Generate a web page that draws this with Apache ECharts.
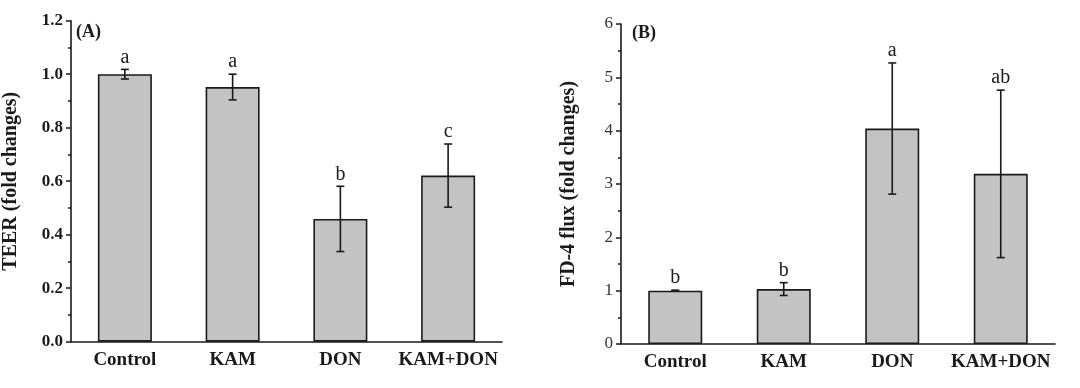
<!DOCTYPE html>
<html>
<head>
<meta charset="utf-8">
<script src="https://cdn.jsdelivr.net/npm/echarts@6/dist/echarts.min.js"></script>
<style>html,body{margin:0;padding:0;background:#fff;}#c{width:1080px;height:388px;}</style>
</head>
<body>
<div id="c"></div>
<script>
const categories = ['Control', 'KAM', 'DON', 'KAM+DON'];
const teerMean = [1.00, 0.952, 0.459, 0.621];
const teerErr = [0.018, 0.048, 0.122, 0.118];
const teerLetters = ['a', 'a', 'b', 'c'];
const fluxMean = [1.00, 1.03, 4.04, 3.19];
const fluxErr = [0.01, 0.12, 1.23, 1.57];
const fluxLetters = ['b', 'b', 'a', 'ab'];

const SERIF = '"Liberation Serif", "Times New Roman", serif';
const DARK = '#1a1a1a';

function errSeries(idx, mean, err, letters) {
  return {
    type: 'custom',
    xAxisIndex: idx, yAxisIndex: idx,
    data: mean.map((m, i) => [i, m, err[i]]),
    z: 10,
    renderItem: function (params, api) {
      const x = api.value(0), m = api.value(1), e = api.value(2);
      const top = api.coord([x, m + e]);
      const bot = api.coord([x, m - e]);
      const hw = 4;
      const st = { stroke: DARK, lineWidth: 1.6 };
      return {
        type: 'group',
        children: [
          { type: 'line', shape: { x1: top[0], y1: top[1], x2: bot[0], y2: bot[1] }, style: st },
          { type: 'line', shape: { x1: top[0] - hw, y1: top[1], x2: top[0] + hw, y2: top[1] }, style: st },
          { type: 'line', shape: { x1: bot[0] - hw, y1: bot[1], x2: bot[0] + hw, y2: bot[1] }, style: st },
          { type: 'text', x: top[0], y: top[1] - 2,
            style: { text: letters[params.dataIndex], font: '20px ' + SERIF, fill: DARK, align: 'center', verticalAlign: 'bottom' } }
        ]
      };
    }
  };
}

function xAx(idx) {
  return {
    type: 'category', gridIndex: idx, data: categories,
    axisLine: { lineStyle: { color: DARK, width: 1.6 } },
    axisTick: { alignWithLabel: true, length: 5, lineStyle: { color: DARK, width: 1.5 } },
    axisLabel: { interval: 0, color: DARK, fontFamily: SERIF, fontWeight: 'bold', fontSize: 19, margin: 9 },
    splitLine: { show: false }
  };
}

function yAx(idx, max, interval, bold, fmt, name, gap) {
  return {
    type: 'value', gridIndex: idx, min: 0, max: max, interval: interval,
    name: name, nameLocation: 'middle', nameGap: gap,
    nameTextStyle: { color: DARK, fontFamily: SERIF, fontWeight: 'bold', fontSize: 20 },
    axisLine: { show: true, lineStyle: { color: DARK, width: 1.6 } },
    axisTick: { show: true, length: 5, lineStyle: { color: DARK, width: 1.5 } },
    minorTick: { show: true, splitNumber: 2, length: 3, lineStyle: { color: DARK, width: 1.5 } },
    axisLabel: { color: bold ? DARK : '#333', fontFamily: SERIF, fontWeight: bold ? 'bold' : 'normal', fontSize: 17, margin: 8, formatter: fmt },
    splitLine: { show: false }
  };
}

const chart = echarts.init(document.getElementById('c'), null, { renderer: 'canvas' });
chart.setOption({
  animation: false,
  backgroundColor: '#fff',
  grid: [
    { left: 65, top: 20.7, width: 437, height: 321 },
    { left: 621, top: 24, width: 434, height: 320 }
  ],
  xAxis: [xAx(0), xAx(1)],
  yAxis: [
    yAx(0, 1.2, 0.2, true, v => v.toFixed(1), 'TEER (fold changes)', 50),
    yAx(1, 6, 1, false, v => String(v), 'FD-4 flux (fold changes)', 42)
  ],
  graphic: [
    { type: 'text', left: 76, top: 23, style: { text: '(A)', font: 'bold 18px ' + SERIF, fill: DARK } },
    { type: 'text', left: 632, top: 24, style: { text: '(B)', font: 'bold 18px ' + SERIF, fill: DARK } }
  ],
  series: [
    { type: 'bar', xAxisIndex: 0, yAxisIndex: 0, data: teerMean, barWidth: 54,
      itemStyle: { color: '#c3c3c3', borderColor: DARK, borderWidth: 1.6 } },
    { type: 'bar', xAxisIndex: 1, yAxisIndex: 1, data: fluxMean, barWidth: 54,
      itemStyle: { color: '#c3c3c3', borderColor: DARK, borderWidth: 1.6 } },
    errSeries(0, teerMean, teerErr, teerLetters),
    errSeries(1, fluxMean, fluxErr, fluxLetters)
  ]
});
</script>
</body>
</html>
